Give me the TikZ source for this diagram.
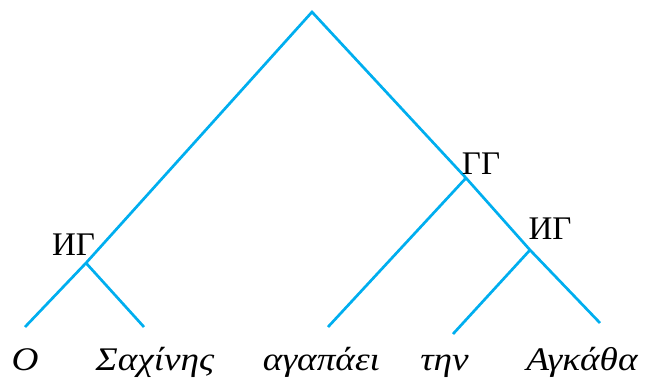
\documentclass[tikz,border=0pt]{standalone}
\usepackage{fontspec}
\setmainfont{Liberation Serif}
\newfontfamily\leaffont{Liberation Serif}[FakeStretch=1.13]
\definecolor{treeblue}{RGB}{0,174,239}
\begin{document}
\begin{tikzpicture}[x=1pt,y=1pt,
  branch/.style={draw=treeblue,line width=2.7pt},
  cat/.style={font=\fontsize{33}{33}\selectfont,inner sep=0pt},
  leaf/.style={font=\leaffont\fontsize{33}{33}\selectfont\itshape,inner sep=0pt,anchor=base}]
\useasboundingbox (0,0) rectangle (645,382);
% junctions and ends (y = 382 - pixel row)
\coordinate (top) at (312,370);
\coordinate (ig1) at (86,119);
\coordinate (gg) at (466,204);
\coordinate (ig2) at (530,132);
\coordinate (e1) at (25,55);
\coordinate (e2) at (144,55);
\coordinate (e3) at (328,55);
\coordinate (e4) at (453,48);
\coordinate (e5) at (600,59);
\draw[branch] (e1) -- (ig1) -- (top) -- (gg) -- (ig2) -- (e5);
\draw[branch] (ig1) -- (e2);
\draw[branch] (gg) -- (e3);
\draw[branch] (ig2) -- (e4);
\node[cat] (l1) at (73.5,137.5) {ИГ};
\node[cat] (l2) at (481,218) {ΓΓ};
\node[cat] (l3) at (550,153) {ИГ};
\node[leaf] (w1) at (25,11) {Ο};
\node[leaf] (w2) at (155,11) {Σαχίνης};
\node[leaf] (w3) at (321.5,11) {αγαπάει};
\node[leaf] (w4) at (444.5,11) {την};
\node[leaf] (w5) at (582,11) {Αγκάθα};
\end{tikzpicture}
\end{document}
